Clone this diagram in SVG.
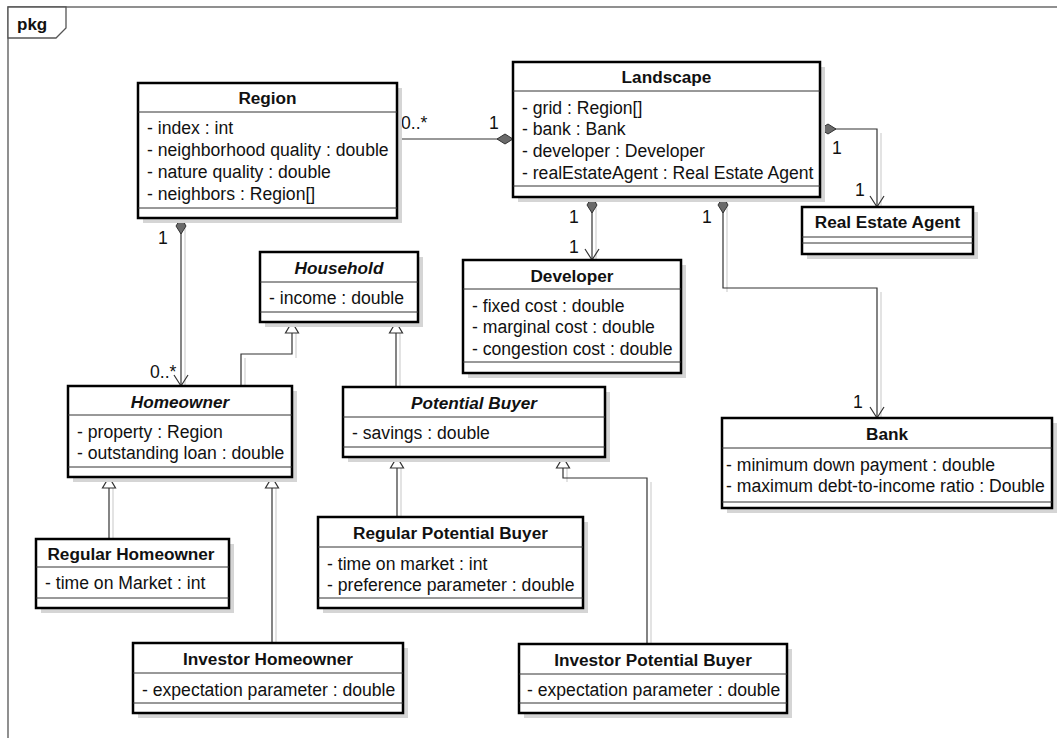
<svg xmlns="http://www.w3.org/2000/svg" width="1057" height="738" viewBox="0 0 1057 738">
<style>
.bg{fill:#fff}
.frame{fill:none;stroke:#555;stroke-width:1.3}
.tab{fill:#fff;stroke:#555;stroke-width:1.3}
.box{fill:#fff;stroke:#000;stroke-width:2.5}
.sh{fill:#d5d5d5}
.sep{stroke:#333;stroke-width:1}
text{font-family:"Liberation Sans",Arial,sans-serif;fill:#111}
.a{font-size:17.6px}
.ti{font-size:17.2px;font-weight:bold;text-anchor:middle}
.ab{font-style:italic}
.lbl{font-size:17.6px}
.conn path{fill:none;stroke:#333;stroke-width:1.2}
.csh path{fill:none;stroke:#dadada;stroke-width:1.5}
</style>
<defs>
<marker id="dia" markerUnits="userSpaceOnUse" orient="auto" refX="0" refY="0" markerWidth="20" markerHeight="20" overflow="visible">
<path d="M0,0 L8,-5 L16,0 L8,5 Z" fill="#6a6a6a" stroke="#333" stroke-width="1"/>
</marker>
<marker id="arr" markerUnits="userSpaceOnUse" orient="auto" refX="0" refY="0" markerWidth="20" markerHeight="20" overflow="visible">
<path d="M-11,-7 L0,0 L-11,7" fill="none" stroke="#333" stroke-width="1.2"/>
</marker>
<marker id="gen" markerUnits="userSpaceOnUse" orient="auto" refX="0" refY="0" markerWidth="20" markerHeight="20" overflow="visible">
<path d="M0,0 L-11,-6.5 L-11,6.5 Z" fill="#fff" stroke="#333" stroke-width="1.2"/>
</marker>
</defs>
<rect class="bg" x="0" y="0" width="1057" height="738"/>
<g id="frame">
<rect class="frame" x="8" y="7" width="1070" height="760"/>
<path class="tab" d="M8,7 L66,7 L66,28 L56,38 L8,38 Z"/>
<text x="17" y="30" style="font-size:17px;font-weight:bold">pkg</text>
</g>
<g class="csh">
<path d="M181,222 L181,386" transform="translate(4,0)"/>
<path d="M592,201 L592,260" transform="translate(4,0)"/>
<path d="M877,133 L877,207" transform="translate(4,0)"/>
<path d="M723,201 L723,292 M877,292 L877,418" transform="translate(4,0)"/>
<path d="M241,358 L241,386 M292,333 L292,358" transform="translate(4,0)"/>
<path d="M396,333 L396,387" transform="translate(4,0)"/>
<path d="M109,488 L109,539" transform="translate(4,0)"/>
<path d="M272,488 L272,643" transform="translate(4,0)"/>
<path d="M397,468 L397,517" transform="translate(4,0)"/>
<path d="M647,482 L647,644 M563,468 L563,482" transform="translate(4,0)"/>
</g>
<g id="connectors" class="conn">
<path d="M513,139 L397,139" marker-start="url(#dia)"/>
<path d="M592,197 L592,260" marker-start="url(#dia)" marker-end="url(#arr)"/>
<path d="M820,129 L877,129 L877,207" marker-start="url(#dia)" marker-end="url(#arr)"/>
<path d="M723,197 L723,288 L877,288 L877,418" marker-start="url(#dia)" marker-end="url(#arr)"/>
<path d="M181,218 L181,386" marker-start="url(#dia)" marker-end="url(#arr)"/>
<path d="M241,386 L241,354 L292,354 L292,322" marker-end="url(#gen)"/>
<path d="M396,387 L396,322" marker-end="url(#gen)"/>
<path d="M109,539 L109,477" marker-end="url(#gen)"/>
<path d="M272,643 L272,477" marker-end="url(#gen)"/>
<path d="M397,517 L397,457" marker-end="url(#gen)"/>
<path d="M647,644 L647,478 L563,478 L563,457" marker-end="url(#gen)"/>
<text class="lbl" x="401" y="129">0..*</text>
<text class="lbl" x="489" y="129">1</text>
<text class="lbl" x="569" y="223">1</text>
<text class="lbl" x="569" y="253">1</text>
<text class="lbl" x="832" y="154">1</text>
<text class="lbl" x="855" y="196">1</text>
<text class="lbl" x="702" y="223">1</text>
<text class="lbl" x="853" y="408">1</text>
<text class="lbl" x="158" y="244">1</text>
<text class="lbl" x="150" y="378">0..*</text>
</g>
<g id="region">
<rect class="sh" x="143" y="88" width="259" height="135"/>
<rect class="box" x="138" y="83" width="259" height="135"/>
<line class="sep" x1="138" y1="112" x2="397" y2="112"/>
<line class="sep" x1="138" y1="208" x2="397" y2="208"/>
<text class="ti" x="267.5" y="104">Region</text>
<text class="a" x="147" y="134">- index : int</text>
<text class="a" x="147" y="156">- neighborhood quality : double</text>
<text class="a" x="147" y="178">- nature quality : double</text>
<text class="a" x="147" y="200">- neighbors : Region[]</text>
</g>
<g id="landscape">
<rect class="sh" x="518" y="67" width="307" height="135"/>
<rect class="box" x="513" y="62" width="307" height="135"/>
<line class="sep" x1="513" y1="91" x2="820" y2="91"/>
<line class="sep" x1="513" y1="186" x2="820" y2="186"/>
<text class="ti" x="666.5" y="83">Landscape</text>
<text class="a" x="522" y="113.5">- grid : Region[]</text>
<text class="a" x="522" y="135">- bank : Bank</text>
<text class="a" x="522" y="157">- developer : Developer</text>
<text class="a" x="522" y="178.5">- realEstateAgent : Real Estate Agent</text>
</g>
<g id="real-estate-agent">
<rect class="sh" x="807" y="212" width="171" height="47"/>
<rect class="box" x="802" y="207" width="171" height="47"/>
<line class="sep" x1="802" y1="237" x2="973" y2="237"/>
<line class="sep" x1="802" y1="243" x2="973" y2="243"/>
<text class="ti" x="887.5" y="228">Real Estate Agent</text>
</g>
<g id="developer">
<rect class="sh" x="468" y="265" width="218" height="113"/>
<rect class="box" x="463" y="260" width="218" height="113"/>
<line class="sep" x1="463" y1="289" x2="681" y2="289"/>
<line class="sep" x1="463" y1="362" x2="681" y2="362"/>
<text class="ti" x="572" y="282">Developer</text>
<text class="a" x="472" y="311.5">- fixed cost : double</text>
<text class="a" x="472" y="333">- marginal cost : double</text>
<text class="a" x="472" y="354.5">- congestion cost : double</text>
</g>
<g id="household">
<rect class="sh" x="265" y="257" width="158" height="70"/>
<rect class="box" x="260" y="252" width="158" height="70"/>
<line class="sep" x1="260" y1="282" x2="418" y2="282"/>
<line class="sep" x1="260" y1="312" x2="418" y2="312"/>
<text class="ti ab" x="339" y="274">Household</text>
<text class="a" x="269" y="304">- income : double</text>
</g>
<g id="homeowner">
<rect class="sh" x="73" y="391" width="224" height="91"/>
<rect class="box" x="68" y="386" width="224" height="91"/>
<line class="sep" x1="68" y1="415" x2="292" y2="415"/>
<line class="sep" x1="68" y1="467" x2="292" y2="467"/>
<text class="ti ab" x="180" y="408">Homeowner</text>
<text class="a" x="77" y="437.5">- property : Region</text>
<text class="a" x="77" y="459">- outstanding loan : double</text>
</g>
<g id="potential-buyer">
<rect class="sh" x="348" y="392" width="262" height="70"/>
<rect class="box" x="343" y="387" width="262" height="70"/>
<line class="sep" x1="343" y1="417" x2="605" y2="417"/>
<line class="sep" x1="343" y1="447" x2="605" y2="447"/>
<text class="ti ab" x="474" y="409">Potential Buyer</text>
<text class="a" x="352" y="439">- savings : double</text>
</g>
<g id="bank">
<rect class="sh" x="727" y="423" width="330" height="90"/>
<rect class="box" x="722" y="418" width="330" height="90"/>
<line class="sep" x1="722" y1="448" x2="1052" y2="448"/>
<line class="sep" x1="722" y1="502" x2="1052" y2="502"/>
<text class="ti" x="887" y="440">Bank</text>
<text class="a" x="726" y="470.5">- minimum down payment : double</text>
<text class="a" x="726" y="492">- maximum debt-to-income ratio : Double</text>
</g>
<g id="regular-homeowner">
<rect class="sh" x="41" y="544" width="193" height="69"/>
<rect class="box" x="36" y="539" width="193" height="69"/>
<line class="sep" x1="36" y1="567" x2="229" y2="567"/>
<line class="sep" x1="36" y1="598" x2="229" y2="598"/>
<text class="ti" x="131" y="560">Regular Homeowner</text>
<text class="a" x="45" y="589">- time on Market : int</text>
</g>
<g id="regular-potential-buyer">
<rect class="sh" x="323" y="522" width="265" height="91"/>
<rect class="box" x="318" y="517" width="265" height="91"/>
<line class="sep" x1="318" y1="547" x2="583" y2="547"/>
<line class="sep" x1="318" y1="598" x2="583" y2="598"/>
<text class="ti" x="450.5" y="539">Regular Potential Buyer</text>
<text class="a" x="327" y="569.5">- time on market : int</text>
<text class="a" x="327" y="591">- preference parameter : double</text>
</g>
<g id="investor-homeowner">
<rect class="sh" x="138" y="648" width="270" height="70"/>
<rect class="box" x="133" y="643" width="270" height="70"/>
<line class="sep" x1="133" y1="673" x2="403" y2="673"/>
<line class="sep" x1="133" y1="703" x2="403" y2="703"/>
<text class="ti" x="268" y="665">Investor Homeowner</text>
<text class="a" x="142" y="695.5">- expectation parameter : double</text>
</g>
<g id="investor-potential-buyer">
<rect class="sh" x="524" y="649" width="268" height="69"/>
<rect class="box" x="519" y="644" width="268" height="69"/>
<line class="sep" x1="519" y1="674" x2="787" y2="674"/>
<line class="sep" x1="519" y1="703" x2="787" y2="703"/>
<text class="ti" x="653" y="665.5">Investor Potential Buyer</text>
<text class="a" x="527" y="695.5">- expectation parameter : double</text>
</g>
</svg>
